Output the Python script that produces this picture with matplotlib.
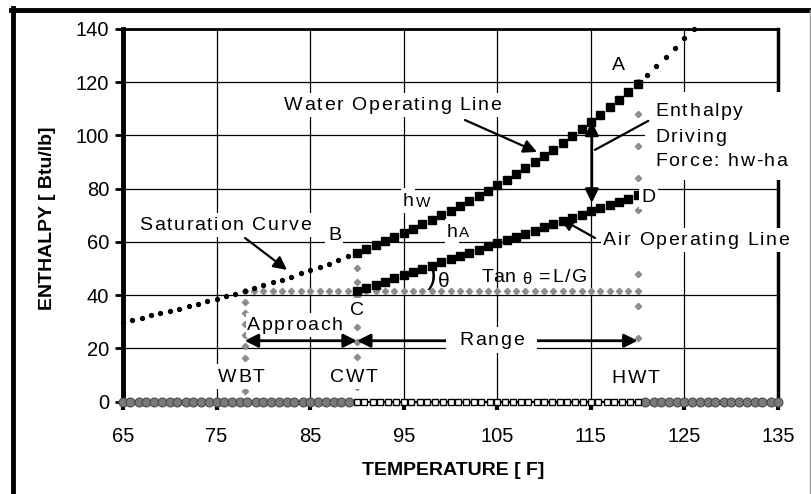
import matplotlib.pyplot as plt
from matplotlib.lines import Line2D
from matplotlib.patches import Rectangle
from matplotlib.transforms import offset_copy, IdentityTransform

plt.rcParams['font.family'] = ['Liberation Sans', 'DejaVu Sans']

# saturation curve (enthalpy of saturated air), 1 F steps
sat_temp = [65, 66, 67, 68, 69, 70, 71, 72, 73, 74, 75, 76, 77, 78, 79, 80,
            81, 82, 83, 84, 85, 86, 87, 88, 89, 90, 91, 92, 93, 94, 95, 96,
            97, 98, 99, 100, 101, 102, 103, 104, 105, 106, 107, 108, 109, 110,
            111, 112, 113, 114, 115, 116, 117, 118, 119, 120, 121, 122, 123,
            124, 125, 126]
sat_enth = [30.1, 30.8, 31.6, 32.4, 33.3, 34.1, 35.0, 35.8, 36.7, 37.7, 38.6,
            39.6, 40.6, 41.6, 42.6, 43.7, 44.8, 45.9, 47.0, 48.2, 49.4, 50.7,
            51.9, 53.2, 54.6, 55.9, 57.3, 58.8, 60.3, 61.8, 63.3, 64.9, 66.6,
            68.2, 70.0, 71.7, 73.6, 75.4, 77.3, 79.3, 81.3, 83.4, 85.6, 87.8,
            90.0, 92.3, 94.7, 97.2, 99.7, 102.3, 105.0, 107.7, 110.6, 113.5,
            116.5, 119.5, 122.7, 126.0, 129.4, 132.9, 136.5, 140.0]

# operating lines
op_temp = [90, 91, 92, 93, 94, 95, 96, 97, 98, 99, 100, 101, 102, 103, 104,
           105, 106, 107, 108, 109, 110, 111, 112, 113, 114, 115, 116, 117,
           118, 119, 120]
water_enth = [55.9, 57.3, 58.8, 60.3, 61.8, 63.3, 64.9, 66.6, 68.2, 70.0,
              71.7, 73.6, 75.4, 77.3, 79.3, 81.3, 83.4, 85.6, 87.8, 90.0,
              92.3, 94.7, 97.2, 99.7, 102.3, 105.0, 107.7, 110.6, 113.5,
              116.5, 119.5]
air_enth = [41.5, 42.7, 43.9, 45.1, 46.3, 47.5, 48.7, 49.9, 51.1, 52.3, 53.5,
            54.7, 55.9, 57.1, 58.3, 59.5, 60.7, 61.9, 63.1, 64.3, 65.5, 66.7,
            67.9, 69.1, 70.3, 71.5, 72.7, 73.9, 75.1, 76.3, 77.5]

# grey guide lines
wbt, cwt, hwt = 78, 90, 120
wbt_enth = [0, 4.15, 8.3, 12.45, 16.6, 20.75, 24.9, 29.05, 33.2, 37.35, 41.5]
cwt_enth = [0, 5.6, 11.2, 16.8, 22.4, 28.0, 33.6, 39.2, 44.8, 50.4, 56.0]
hwt_enth = [0, 12, 24, 36, 48, 60, 72, 84, 96, 108, 120]
inlet_temp = [78, 79, 80, 81, 82, 83, 84, 85, 86, 87, 88, 89, 90, 91, 92, 93,
              94, 95, 96, 97, 98, 99, 100, 101, 102, 103, 104, 105, 106, 107,
              108, 109, 110, 111, 112, 113, 114, 115, 116, 117, 118, 119, 120]
inlet_enth = 41.5

# baseline series along zero
base_temp = [65.0, 65.8, 66.7, 67.5, 68.3, 69.2, 70.0, 70.8, 71.7, 72.5, 73.3,
             74.2, 75.0, 75.8, 76.7, 77.5, 78.3, 79.2, 80.0, 80.8, 81.7, 82.5,
             83.3, 84.2, 85.0, 85.8, 86.7, 87.5, 88.3, 89.2, 90.0, 90.8, 91.7,
             92.5, 93.3, 94.2, 95.0, 95.8, 96.7, 97.5, 98.3, 99.2, 100.0,
             100.8, 101.7, 102.5, 103.3, 104.2, 105.0, 105.8, 106.7, 107.5,
             108.3, 109.2, 110.0, 110.8, 111.7, 112.5, 113.3, 114.2, 115.0,
             115.8, 116.7, 117.5, 118.3, 119.2, 120.0, 120.8, 121.7, 122.5,
             123.3, 124.2, 125.0, 125.8, 126.7, 127.5, 128.3, 129.2, 130.0,
             130.8, 131.7, 132.5, 133.3, 134.2, 135.0]

xticks = [65, 75, 85, 95, 105, 115, 125, 135]
yticks = [0, 20, 40, 60, 80, 100, 120, 140]

fig = plt.figure(figsize=(8.11, 4.94), dpi=100)
ax = fig.add_axes([123 / 811, 1 - 401.7 / 494, 655 / 811, 372.7 / 494])
ax.set_xlim(65, 135)
ax.set_ylim(0, 140)
ax.set_xticks(xticks)
ax.set_yticks(yticks)
ax.grid(color='black', lw=0.9, zorder=0)
ax.set_axisbelow(True)

grey = '#8c8c8c'
ax.plot([wbt] * len(wbt_enth), wbt_enth, ls='none', marker='D', ms=3.2, color=grey, zorder=2)
ax.plot([cwt] * len(cwt_enth), cwt_enth, ls='none', marker='D', ms=3.2, color=grey, zorder=2)
ax.plot([hwt] * len(hwt_enth), hwt_enth, ls='none', marker='D', ms=3.2, color=grey, zorder=2)
ax.plot(inlet_temp, [inlet_enth] * len(inlet_temp), ls='none', marker='D', ms=3.2,
        color=grey, zorder=2)

ax.plot(sat_temp, sat_enth, ls='none', marker='o', ms=2.8, color='black',
        clip_on=False, zorder=3)
ax.plot(op_temp, water_enth, ls='none', marker='s', ms=5.8, color='black', zorder=4)
ax.plot(op_temp, air_enth, ls='none', marker='s', ms=5.8, color='black', zorder=4)

outer = [t for t in base_temp if t < 90 or t > 120]
inner = [t for t in base_temp if 90 <= t <= 120]
ax.plot(outer, [0] * len(outer), ls='none', marker='o', ms=6.4, color='#7a7a7a',
        mec='#4a4a4a', mew=0.8, clip_on=False, zorder=5)
ax.plot(inner, [0] * len(inner), ls='none', marker='s', ms=4.2, mfc='white',
        mec='black', mew=1.0, clip_on=False, zorder=5)

ax.spines['left'].set_linewidth(3.5)
ax.spines['right'].set_linewidth(2.5)
ax.spines['top'].set_linewidth(2)
ax.spines['bottom'].set_linewidth(1.5)
ax.tick_params(axis='x', direction='out', length=6, width=3, pad=12, labelsize=14.5)
ax.tick_params(axis='y', direction='out', length=6, width=2, pad=4, labelsize=14.5)

fig.text(48 / 811, 1 - 218 / 494, 'ENTHALPY [ Btu/lb]', rotation=90, ha='center',
         va='center', fontsize=14, fontweight='bold')
fig.text(453 / 811, 1 - 470 / 494, 'TEMPERATURE [ F]', ha='center', va='center',
         fontsize=14, fontweight='bold')

fs = 14
renderer = fig.canvas.get_renderer()


def width_px(s, size):
    t = fig.text(0, 0, 'x' + s + 'x', fontsize=size)
    w1 = t.get_window_extent(renderer).width
    t.set_text('xx')
    w0 = t.get_window_extent(renderer).width
    t.remove()
    return w1 - w0


def spaced(x, y, s, size=fs, track=1.65, white=True, padx=2.5, pady=2.5, z=6):
    # text with extra letter spacing, like the original chart
    widths = [width_px(c, size) for c in s]
    if white:
        total = sum(widths) + track * (len(s) - 1)
        em = size * fig.dpi / 72
        px, py = ax.transData.transform((x, y))
        ax.add_patch(Rectangle((px - padx, py - 0.24 * em - pady), total + 2 * padx,
                               1.0 * em + 2 * pady, transform=IdentityTransform(),
                               facecolor='white', edgecolor='none', clip_on=False,
                               zorder=z - 0.5))
    pos = 0.0
    for c, w in zip(s, widths):
        if c != ' ':
            tr = offset_copy(ax.transData, fig=fig, x=pos, y=0, units='dots')
            ax.text(x, y, c, fontsize=size, ha='left', va='baseline',
                    transform=tr, clip_on=False, zorder=z)
        pos += w + track


def arrow(x0, y0, x1, y1, style='-|>', lw=1.6):
    ax.annotate('', xy=(x1, y1), xytext=(x0, y0),
                arrowprops=dict(arrowstyle=style, color='black', lw=lw,
                                mutation_scale=20, shrinkA=0, shrinkB=0),
                zorder=7, annotation_clip=False)


spaced(82.2, 109.6, 'Water Operating Line')
arrow(101.55, 105.8, 109.24, 93.8)
spaced(66.75, 64.5, 'Saturation Curve')
arrow(78.04, 61.5, 82.53, 49.5)
spaced(86.9, 60.8, 'B')
spaced(117.3, 124.7, 'A')
spaced(94.9, 73.6, 'h', padx=1.5)
ax.text(96.3, 73.3, 'W', fontsize=11, ha='left', va='baseline', zorder=6)
spaced(99.6, 62.0, 'h', padx=1.5)
ax.text(100.95, 61.8, 'A', fontsize=11, ha='left', va='baseline', zorder=6)
ax.text(97.97, 44.4, ')', fontsize=21, ha='center', va='baseline', zorder=6)
ax.text(99.23, 43.2, 'θ', fontsize=15, ha='center', va='baseline', zorder=6)
spaced(103.3, 45.1, 'Tan', track=0.3, white=False)
ax.text(108.2, 44.3, 'θ', fontsize=12, ha='center', va='baseline', zorder=6)
spaced(109.5, 45.1, '=L/G', white=False)
spaced(89.3, 32.6, 'C')
arrow(78, 22.9, 90, 22.9, style='<|-|>', lw=2)
arrow(90, 22.9, 120, 22.9, style='<|-|>', lw=2)
spaced(78.25, 26.9, 'Approach', padx=0.5)
spaced(100.94, 21.3, 'Range', padx=13, pady=3, z=8)
spaced(75.19, 7.5, 'WBT')
spaced(87.12, 7.5, 'CWT')
spaced(117.23, 6.9, 'HWT')

ax.add_patch(Rectangle((120.8, 83.4), 16.6, 33.0, facecolor='white', edgecolor='none',
                       clip_on=False, zorder=5.5))
spaced(121.86, 107.4, 'Enthalpy', white=False)
spaced(121.86, 97.7, 'Driving', white=False)
spaced(121.86, 88.6, 'Force: hw-ha', white=False)
ax.annotate('', xy=(115.44, 94.6), xytext=(121.14, 105.5),
            arrowprops=dict(arrowstyle='-', color='black', lw=1.6, shrinkA=0, shrinkB=0),
            zorder=7)
arrow(115.1, 105.2, 115.1, 74.7, style='<|-|>', lw=2)
spaced(120.43, 74.9, 'D')
spaced(116.33, 58.9, 'Air Operating Line')
arrow(115.44, 61.5, 111.7, 68.9)

# outer frame of the picture
fig.add_artist(Line2D([13 / 811, 13 / 811], [0, 1 - 8 / 494], color='black', lw=3.5))
fig.add_artist(Line2D([11 / 811, 810 / 811], [1 - 10 / 494, 1 - 10 / 494], color='black', lw=3.5))
fig.add_artist(Line2D([809.5 / 811, 809.5 / 811], [0, 1 - 10 / 494], color='#999999', lw=1))

fig.savefig('out.png', dpi=100)
